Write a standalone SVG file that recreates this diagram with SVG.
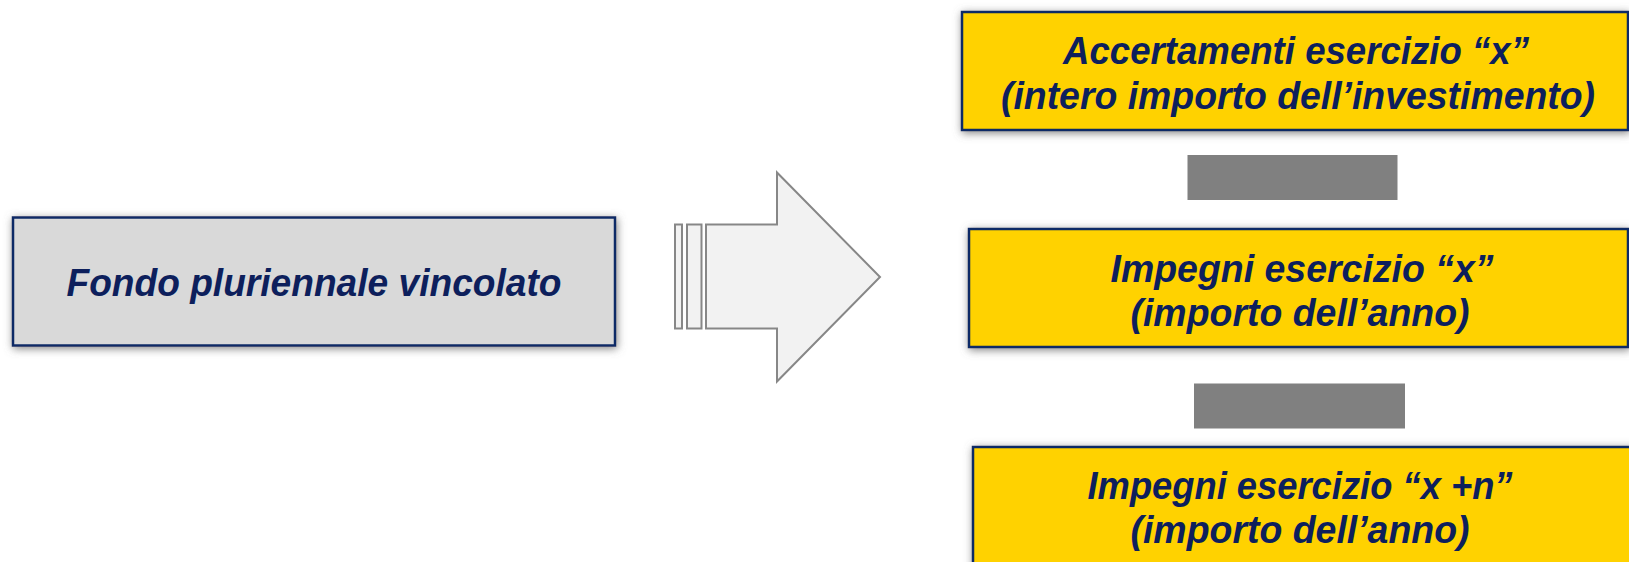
<svg xmlns="http://www.w3.org/2000/svg" width="1629" height="562" viewBox="0 0 1629 562">
<style>
  .box { stroke: #0f2a66; stroke-width: 2.5; filter: url(#sh); }
  .gray { fill: #d9d9d9; }
  .yellow { fill: #ffd200; }
  .t { font-family: "Liberation Sans", Arial, sans-serif; font-weight: bold; font-style: italic; font-size: 39px; fill: #0d1f5c; text-anchor: middle; }
  .bar { fill: #808080; }
  .arr { fill: #f2f2f2; stroke: #878787; stroke-width: 2; }
</style>
<defs>
  <filter id="sh" x="-10%" y="-20%" width="120%" height="140%">
    <feDropShadow dx="1" dy="2" stdDeviation="4" flood-color="#707070" flood-opacity="0.85"/>
  </filter>
</defs>
<rect width="1629" height="562" fill="#ffffff"/>

<g id="fondo">
  <rect class="box gray" x="13" y="217.5" width="602" height="128"/>
  <text class="t" x="314" y="296" textLength="495" lengthAdjust="spacingAndGlyphs">Fondo pluriennale vincolato</text>
</g>

<g id="connectors">
  <rect class="arr" x="675" y="224.5" width="7" height="104"/>
  <rect class="arr" x="687" y="224.5" width="14.5" height="104"/>
  <path class="arr" d="M706,224.5 H777 V172.5 L880,277 L777,381.5 V328.5 H706 Z"/>
  <rect class="bar" x="1187.5" y="155" width="210" height="45"/>
  <rect class="bar" x="1194" y="383.5" width="211" height="45"/>
</g>

<g id="accertamenti">
  <rect class="box yellow" x="962" y="12" width="666" height="118"/>
  <text class="t" x="1296" y="63.5" textLength="466" lengthAdjust="spacingAndGlyphs">Accertamenti esercizio “x”</text>
  <text class="t" x="1298" y="108.5" textLength="594" lengthAdjust="spacingAndGlyphs">(intero importo dell’investimento)</text>
</g>

<g id="impegni-x">
  <rect class="box yellow" x="969" y="229" width="659" height="118"/>
  <text class="t" x="1302" y="282" textLength="383" lengthAdjust="spacingAndGlyphs">Impegni esercizio “x”</text>
  <text class="t" x="1300" y="325.5" textLength="339" lengthAdjust="spacingAndGlyphs">(importo dell’anno)</text>
</g>

<g id="impegni-xn">
  <rect class="box yellow" x="973" y="447" width="665" height="130"/>
  <text class="t" x="1300" y="498.5" textLength="425" lengthAdjust="spacingAndGlyphs">Impegni esercizio “x +n”</text>
  <text class="t" x="1300" y="543" textLength="339" lengthAdjust="spacingAndGlyphs">(importo dell’anno)</text>
</g>
</svg>
